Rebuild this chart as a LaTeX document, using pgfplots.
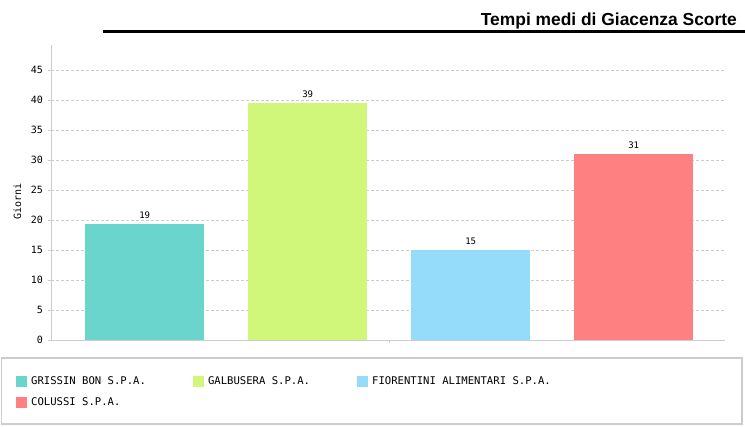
\documentclass[border=0pt]{standalone}
\usepackage{fontspec}
\setmainfont{Liberation Sans}
\newfontfamily\mono{DejaVu Sans Mono}
\usepackage{pgfplots}
\pgfplotsset{compat=1.18}
\definecolor{cA}{HTML}{6AD5CD}
\definecolor{cB}{HTML}{D1F77A}
\definecolor{cC}{HTML}{95DBFA}
\definecolor{cD}{HTML}{FF8080}
\definecolor{gridc}{HTML}{CCCCCC}
\begin{document}
\begin{tikzpicture}[x=1pt,y=1pt]
\path[use as bounding box] (0,0) rectangle (745,427);
\node[anchor=base east, font=\bfseries\fontsize{17.4}{20}\selectfont, inner sep=0pt] at (737,401) {Tempi medi di Giacenza Scorte};
\draw[line width=3pt] (103,395) -- (745,395);
\draw[color=gridc, line width=1.5pt] (1.5,3) rectangle (742,69);
\begin{axis}[
  at={(51pt,87pt)}, anchor=south west,
  scale only axis, width=674pt, height=295pt,
  xmin=-0.575, xmax=3.56, ymin=0, ymax=49.17,
  ytick={0,5,...,45}, xtick={1.5}, xticklabels={},
  axis x line*=bottom, axis y line*=left,
  axis line style={gridc, line width=0.8pt},
  tick style={gridc, line width=0.8pt},
  major tick length=3pt, tick align=outside,
  ymajorgrids,
  major grid style={gridc, dash pattern=on 2.5pt off 2.5pt, line width=0.8pt},
  /pgf/number format/assume math mode=true,
  yticklabel style={font=\mono\fontsize{10}{12}\selectfont, inner sep=0pt, xshift=-5pt},
  ylabel={Giorni},
  ylabel style={font=\mono\fontsize{10}{12}\selectfont, at={(axis description cs:-0.05,0.47)}, anchor=center},
  ybar, bar width=119pt, bar shift=0pt,
  point meta=explicit symbolic,
  nodes near coords,
  nodes near coords style={font=\mono\fontsize{9}{10}\selectfont, inner sep=0pt, anchor=south, yshift=5pt},
  legend columns=3,
  legend cell align=left,
  legend style={draw=none, fill=none, inner sep=0pt,
    at={(axis description cs:-0.052,-0.117)}, anchor=north west,
    font=\mono\fontsize{10.6}{12}\selectfont, row sep=8pt,
    /tikz/every odd column/.append style={column sep=2pt},
    /tikz/every even column/.append style={column sep=45pt}},
  legend image code/.code={\fill[#1] (0pt,-5.5pt) rectangle (11pt,5.5pt);},
]
\addplot[fill=cA, draw=none] coordinates {(0,19.3) [19]};
\addplot[fill=cB, draw=none] coordinates {(1,39.5) [39]};
\addplot[fill=cC, draw=none] coordinates {(2,15.0) [15]};
\addplot[fill=cD, draw=none] coordinates {(3,31.0) [31]};
\legend{GRISSIN BON S.P.A., GALBUSERA S.P.A., FIORENTINI ALIMENTARI S.P.A., COLUSSI S.P.A.}
\end{axis}
\end{tikzpicture}
\end{document}
